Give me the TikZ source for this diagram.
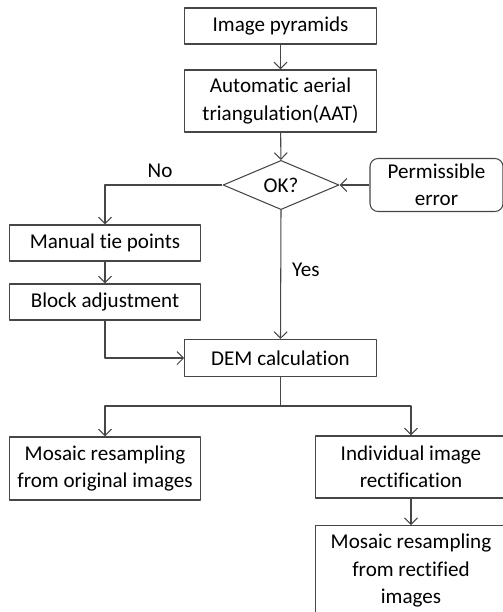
\documentclass[tikz,border=0pt]{standalone}
\usepackage{fontspec}
\setmainfont[Ligatures=NoCommon]{Carlito}
\usetikzlibrary{shapes.geometric,arrows.meta}
\definecolor{linegray}{RGB}{70,70,70}

\begin{document}
\begin{tikzpicture}[x=0.02cm, y=-0.02cm, font=\fontsize{12}{15.5}\selectfont,
    line join=round,
    box/.style={draw=linegray, line width=0.6pt, align=center, inner sep=0pt, minimum width=3.83cm},
    roundbox/.style={box, rounded corners=0.16cm},
    decision/.style={diamond, draw=linegray, line width=0.6pt, inner sep=0pt, minimum width=2.32cm, minimum height=0.92cm},
    flow/.style={draw=linegray, line width=0.6pt, -{Straight Barb[length=1.3mm, width=2.6mm]}}]
    % khung hình
    \useasboundingbox (0,0) rectangle (503,612);
    \clip (0,0) rectangle (503,612);

    % Cột giữa
    \node[box, minimum height=0.72cm] (pyr) at (280.5,26) {Image pyramids};
    \node[box, minimum height=1.24cm] (aat) at (280.5,101) {Automatic aerial\\triangulation(AAT)};
    \node[decision] (ok) at (281,185) {OK?};
    \node[roundbox, minimum width=2.66cm, minimum height=1.06cm] (perm) at (436.5,185) {Permissible\\error};
    \node[box, minimum height=0.74cm] (dem) at (280.5,358) {DEM calculation};

    % Nhánh trái (No)
    \node[box, minimum height=0.72cm] (man) at (105,243) {Manual tie points};
    \node[box, minimum height=0.72cm] (blk) at (105,302) {Block adjustment};

    % Hai nhánh dưới
    \node[box, minimum height=1.26cm] (mosorig) at (105,468.5) {Mosaic resampling\\from original images};
    \node[box, minimum height=1.24cm] (indiv) at (411,467) {Individual image\\rectification};
    \node[box, minimum height=1.8cm, anchor=north] (mosrect) at (411,525) {Mosaic resampling\\from rectified\\images};
    \coordinate (split) at (280.5,406);

    % Mũi tên
    \draw[flow] (pyr) -- (aat);
    \draw[flow] (aat) -- (ok);
    \draw[flow] (perm) -- (ok.east);
    \draw[flow] (ok.west) -| (man.north);
    \node (no) at (160,171) {No};
    \draw[flow] (ok.south) -- (dem.north);
    \node[anchor=west] (yes) at (286,270) {Yes};
    \draw[flow] (man) -- (blk);
    \draw[flow] (blk.south) |- (dem.west);
    \draw[draw=linegray, line width=0.6pt] (dem.south) -- (split);
    \draw[flow] (split) -| (mosorig.north);
    \draw[flow] (split) -| (indiv.north);
    \draw[flow] (indiv) -- (mosrect);
\end{tikzpicture}
\end{document}
